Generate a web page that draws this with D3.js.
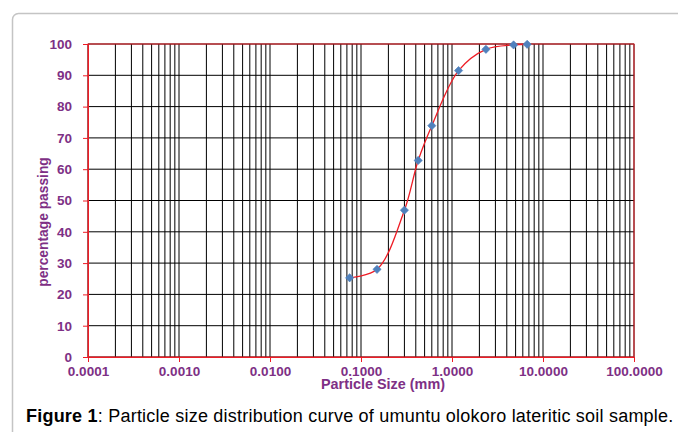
<!DOCTYPE html>
<html><head><meta charset="utf-8">
<script src="https://cdn.jsdelivr.net/npm/d3@7"></script>
<style>body{margin:0;background:#fff}svg{display:block}</style>
</head><body>
<svg id="c" width="678" height="432"></svg>
<script>
const sizes = [0.075, 0.15, 0.30, 0.425, 0.60, 1.18, 2.36, 4.75, 6.7];
const passing = [25.3, 28.0, 46.9, 62.8, 73.9, 91.5, 98.3, 99.7, 99.9];
const xTickValues = [0.0001, 0.001, 0.01, 0.1, 1, 10, 100];
const xTickLabels = ["0.0001", "0.0010", "0.0100", "0.1000", "1.0000", "10.0000", "100.0000"];
const yTickValues = [0, 10, 20, 30, 40, 50, 60, 70, 80, 90, 100];

const purple = "#7e3085";
const font = "Liberation Sans, Arial, sans-serif";
const svg = d3.select("#c");
const L = 88, R = 634, T = 44, B = 357;
const x = d3.scaleLog().domain([0.0001, 100]).range([L, R]);
const y = d3.scaleLinear().domain([0, 100]).range([B, T]);

// outer rounded border
svg.append("rect").attr("x", 12.5).attr("y", 13.5).attr("width", 700).attr("height", 450)
  .attr("rx", 6).attr("fill", "none").attr("stroke", "#c4c4c4").attr("stroke-width", 1.5);

// vertical grid (all log ticks)
const minor = [];
for (let e = -4; e < 2; e++) for (let m = 1; m <= 9; m++) minor.push(m * Math.pow(10, e));
minor.push(100);
svg.append("g").selectAll("line").data(minor).join("line")
  .attr("x1", d => x(d)).attr("x2", d => x(d)).attr("y1", T).attr("y2", B)
  .attr("stroke", "#000").attr("stroke-width", 1);
// horizontal grid
svg.append("g").selectAll("line").data(yTickValues).join("line")
  .attr("x1", L).attr("x2", R).attr("y1", d => y(d)).attr("y2", d => y(d))
  .attr("stroke", "#000").attr("stroke-width", 1);

// red frame
svg.append("rect").attr("x", L).attr("y", T).attr("width", R - L).attr("height", B - T)
  .attr("fill", "none").attr("stroke", "#ee1c25").attr("stroke-width", 1);

// axes
const yAxis = d3.axisLeft(y).tickValues(yTickValues).tickSize(5).tickPadding(11);
const gy = svg.append("g").attr("transform", `translate(${L},0)`).call(yAxis);
const xAxis = d3.axisBottom(x).tickValues(xTickValues).tickSize(5).tickPadding(4)
  .tickFormat((d, i) => xTickLabels[i]);
const gx = svg.append("g").attr("transform", `translate(0,${B})`).call(xAxis);
[gx, gy].forEach(g => {
  g.select(".domain").attr("stroke", "#ee1c25");
  g.selectAll(".tick line").attr("stroke", "#ee1c25");
  g.selectAll(".tick text").attr("fill", purple)
    .style("font-family", font).style("font-weight", "bold").style("font-size", "13.5px");
});

// axis titles
svg.append("text").attr("x", 383).attr("y", 389).attr("text-anchor", "middle")
  .attr("fill", purple).style("font-family", font)
  .style("font-weight", "bold").style("font-size", "14.4px").text("Particle Size (mm)");
svg.append("text").attr("transform", "translate(48,222) rotate(-90)").attr("text-anchor", "middle")
  .attr("fill", purple).style("font-family", font)
  .style("font-weight", "bold").style("font-size", "13.8px").text("percentage passing");

// curve
const pts = sizes.map((s, i) => [s, passing[i]]);
svg.append("path").datum(pts)
  .attr("d", d3.line().x(d => x(d[0])).y(d => y(d[1])).curve(d3.curveCatmullRom.alpha(0.5)))
  .attr("fill", "none").attr("stroke", "#ee1c25").attr("stroke-width", 1.3);

// markers (diamonds: rotated squares)
svg.append("g").selectAll("path").data(pts).join("path")
  .attr("transform", d => `translate(${x(d[0])},${y(d[1])}) rotate(45)`)
  .attr("d", d3.symbol().type(d3.symbolSquare).size(34))
  .attr("fill", "#4f81bd").attr("stroke", "#4f81bd").attr("stroke-width", 0.6);

// caption
const cap = svg.append("text").attr("x", 26).attr("y", 422)
  .style("font-family", font).style("font-size", "18px").style("letter-spacing", "0.22px").attr("fill", "#000");
cap.append("tspan").style("font-weight", "bold").text("Figure 1");
cap.append("tspan").text(": Particle size distribution curve of umuntu olokoro lateritic soil sample.");
</script>
</body></html>
